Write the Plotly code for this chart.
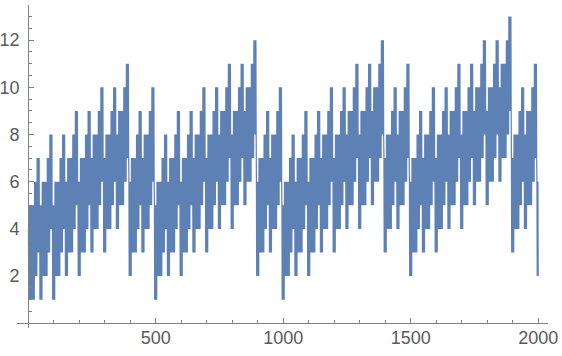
import plotly.graph_objects as go

# Level of each 50-point period (value of its lowest dip), read period by period from the picture
period_base = [0, 1, 1, 2, 2, 3, 3, 4, 2, 3,
               1, 2, 2, 3, 3, 4, 4, 5, 2, 3,
               1, 2, 2, 3, 3, 4, 4, 5, 3, 4,
               2, 3, 3, 4, 4, 5, 5, 6, 3, 4,
               2]

# Each period is seen as 5 blocks of 10 points: lowest and highest value of each block,
# as offsets above the period level (dip block first, tallest spike block last)
block_lo = [0, 1, 1, 2, 3]
block_hi = [4, 5, 5, 6, 7]

n_points = 2000
lowest_value = 1
x_ticks = [500, 1000, 1500, 2000]
y_ticks = [2, 4, 6, 8, 10, 12]

xs = list(range(1, n_points + 1))
ys = []
for x in xs:
    k = (x + 5) // 50
    j = ((x + 5) % 50) // 10
    off = block_hi[j] if x % 2 else block_lo[j]
    ys.append(max(period_base[k] + off, lowest_value))

fig = go.Figure(go.Scatter(
    x=xs, y=ys, mode="lines",
    line=dict(color="#5E81B5", width=1.2, simplify=False),
    hoverinfo="skip",
))

axis_col = "#808080"
font = dict(family="Liberation Sans, Arial, sans-serif", size=18, color="#5a5a5a")

fig.update_layout(
    width=562, height=356,
    margin=dict(l=17, r=14, t=5, b=28),
    paper_bgcolor="white", plot_bgcolor="white",
    showlegend=False,
    xaxis=dict(
        range=[-43.9, 2038.4], anchor="free", position=0.01455, automargin=False,
        showgrid=False, zeroline=False, showline=True, linecolor=axis_col, linewidth=1,
        tickvals=x_ticks, ticks="inside", ticklen=5, tickcolor=axis_col, tickwidth=1,
        minor=dict(dtick=100, tick0=0, ticks="inside", ticklen=3, tickcolor=axis_col, showgrid=False),
        tickfont=font, ticklabelstandoff=-2,
    ),
    yaxis=dict(
        range=[-0.2, 13.49], anchor="free", position=0.0211, automargin=False,
        showgrid=False, zeroline=False, showline=True, linecolor=axis_col, linewidth=1,
        tickvals=y_ticks, ticks="inside", ticklen=5, tickcolor=axis_col, tickwidth=1,
        minor=dict(dtick=0.5, tick0=0, ticks="inside", ticklen=3, tickcolor=axis_col, showgrid=False),
        tickfont=font, ticklabelstandoff=5,
    ),
)

fig.write_html("out.html", config={"displayModeBar": False},
               post_script="document.body.style.margin='0px';")
